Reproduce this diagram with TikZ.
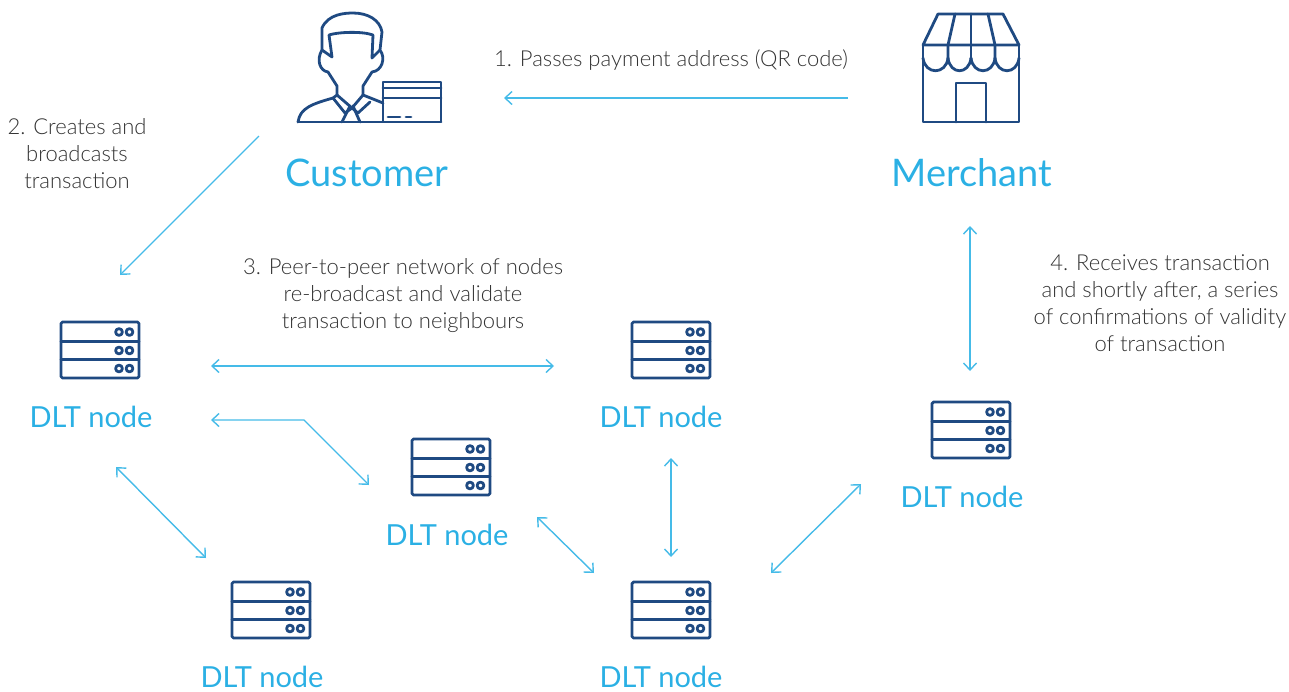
\documentclass[tikz,border=0pt]{standalone}
\usepackage{fontspec}
\setmainfont{Lato Light}
\newfontfamily\namefont{Lato}
\usepackage{tikz}
\usetikzlibrary{arrows.meta}
\definecolor{navy}{HTML}{1F4A82}
\definecolor{sky}{HTML}{2BB0E4}
\definecolor{wire}{HTML}{45BBE8}
\definecolor{ink}{HTML}{333333}
\tikzstyle{icon}=[draw=navy,line width=2.8pt,line join=round,line cap=round]
\tikzstyle{link}=[draw=wire,line width=1.4pt,{Straight Barb[length=7pt,width=13pt]}-{Straight Barb[length=7pt,width=13pt]}]
\tikzstyle{oneway}=[draw=wire,line width=1.4pt,-{Straight Barb[length=7pt,width=13pt]}]
\tikzstyle{dltname}=[text=sky,font=\namefont\fontsize{29}{30}\selectfont,inner sep=0pt]
\tikzstyle{party}=[text=sky,font=\namefont\fontsize{38}{40}\selectfont,inner sep=0pt]
\tikzstyle{note}=[text=ink,font=\fontsize{22}{27}\selectfont,align=center,inner sep=0pt]
\tikzset{
  server/.pic={
    \draw[icon,rounded corners=1.5pt] (-39,-28) rectangle (39,28);
    \draw[icon] (-39,-8.5) -- (39,-8.5);
    \draw[icon] (-39,9.5) -- (39,9.5);
    \foreach \y in {-18,0.5,18.5} {
      \draw[icon,line width=2.8pt] (19,\y) circle (3.4);
      \draw[icon,line width=2.8pt] (29.5,\y) circle (3.4);
    }
  }
}
\begin{document}
\begin{tikzpicture}[x=1pt,y=-1pt]
    \useasboundingbox (0,0) rectangle (1289,691);
    % customer
    \draw[icon] (298,122) .. controls (300,108) and (312,104) .. (333,98) -- (337,95) -- (337,86) -- (328,72) .. controls (320,71) and (316,60) .. (322,50) -- (322,28) .. controls (328,14) and (345,13) .. (353,13) .. controls (368,13) and (380,20) .. (382,32) -- (380,50) .. controls (386,58) and (382,71) .. (372,72) -- (363,86) -- (363,95) -- (383,103);
    \draw[icon] (322,50) -- (332,57) -- (329,35) .. controls (338,32) and (362,31) .. (373,35) -- (372,58) -- (380,50);
    \draw[icon] (298,122) -- (441,122);
    \draw[icon] (337,95) -- (352,108) -- (363,95);
    \draw[icon] (333,98) -- (345,113) -- (352,108) -- (358,113) -- (370,102);
    \draw[icon] (350,106) -- (342,122);
    \draw[icon] (353,106) -- (360,122);
    \draw[icon] (383,82) rectangle (441,122);
    \draw[icon] (383,88) -- (441,88);
    \draw[icon] (383,98) -- (441,98);
    \draw[icon] (388,117) -- (400,117);
    \draw[icon] (406,117) -- (411,117);
    % merchant
    \draw[icon] (923,45) -- (938,14) -- (1003,14) -- (1019,45) -- cycle;
    \draw[icon] (923,45) -- (923,122) -- (1019,122) -- (1019,45);
    \draw[icon] (955,14) -- (948,45) -- (948,58);
    \draw[icon] (971,14) -- (971,58);
    \draw[icon] (988,14) -- (995,45) -- (995,58);
    \draw[icon] (923,58) .. controls (925,75) and (946,75) .. (948,58);
    \draw[icon] (948,58) .. controls (950,75) and (969,75) .. (971,58);
    \draw[icon] (971,58) .. controls (973,75) and (993,75) .. (995,58);
    \draw[icon] (995,58) .. controls (997,75) and (1017,75) .. (1019,58);
    \draw[icon] (956,122) -- (956,83) -- (986,83) -- (986,122);
    % servers
    \pic at (100,350) {server};
    \pic at (671,350) {server};
    \pic at (451,467) {server};
    \pic at (971,430) {server};
    \pic at (271,610) {server};
    \pic at (671,610) {server};
    % names
    \node[party] (customer) at (367,173) {Customer};
    \node[party] (merchant) at (972,173) {Merchant};
    \node[dltname] (dltA) at (91,417) {DLT node};
    \node[dltname] (dltB) at (661,417) {DLT node};
    \node[dltname] (dltC) at (447,535) {DLT node};
    \node[dltname] (dltD) at (962,497) {DLT node};
    \node[dltname] (dltE) at (262,677) {DLT node};
    \node[dltname] (dltF) at (661,677) {DLT node};
    % notes
    \node[note] (passes) at (671,60) {1. Passes payment address (QR code)};
    \node[note] (creates) at (77,154) {2. Creates and\\broadcasts\\transaction};
    \node[note] (peers) at (403,296) {3. Peer-to-peer network of nodes\\re-broadcast and validate\\transaction to neighbours};
    \node[note] (receives) at (1160,303) {4. Receives transaction\\and shortly after, a series\\of confirmations of validity\\of transaction};
    % arrow ends
    \coordinate (payS) at (848,98);
    \coordinate (payT) at (504,98);
    \coordinate (txS) at (259,136);
    \coordinate (txT) at (120,275);
    \coordinate (abS) at (211,366);
    \coordinate (abT) at (554,366);
    \coordinate (acS) at (211,420);
    \coordinate (acM) at (304,420);
    \coordinate (acT) at (369,485);
    \coordinate (aeS) at (116,467);
    \coordinate (aeT) at (206,558);
    \coordinate (bfS) at (671,458);
    \coordinate (bfT) at (671,557);
    \coordinate (cfS) at (537,517);
    \coordinate (cfT) at (594,573);
    \coordinate (fdS) at (771,573);
    \coordinate (fdT) at (861,484);
    \coordinate (mdS) at (970,226);
    \coordinate (mdT) at (970,371);
    \path[oneway] (payS) -- (payT);
    \path[oneway] (txS) -- (txT);
    \path[link] (abS) -- (abT);
    \path[link] (acS) -- (acM) -- (acT);
    \path[link] (aeS) -- (aeT);
    \path[link] (bfS) -- (bfT);
    \path[link] (cfS) -- (cfT);
    \path[link] (fdS) -- (fdT);
    \path[link] (mdS) -- (mdT);
\end{tikzpicture}
\end{document}
